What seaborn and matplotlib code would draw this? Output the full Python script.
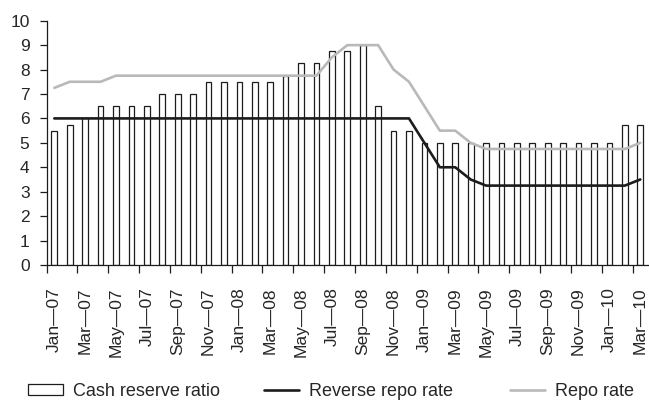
import matplotlib
matplotlib.use("Agg")
import matplotlib.pyplot as plt
from matplotlib.patches import Patch
from matplotlib.lines import Line2D
from matplotlib.ticker import FixedLocator
import seaborn as sns
import pandas as pd

# Monthly policy rates, Jan 2007 - Mar 2010 (per cent)
months = [
    "Jan—07", "Feb—07", "Mar—07", "Apr—07", "May—07", "Jun—07", "Jul—07", "Aug—07",
    "Sep—07", "Oct—07", "Nov—07", "Dec—07", "Jan—08", "Feb—08", "Mar—08", "Apr—08",
    "May—08", "Jun—08", "Jul—08", "Aug—08", "Sep—08", "Oct—08", "Nov—08", "Dec—08",
    "Jan—09", "Feb—09", "Mar—09", "Apr—09", "May—09", "Jun—09", "Jul—09", "Aug—09",
    "Sep—09", "Oct—09", "Nov—09", "Dec—09", "Jan—10", "Feb—10", "Mar—10",
]
cash_reserve_ratio = [
    5.5, 5.75, 6.0, 6.5, 6.5, 6.5, 6.5, 7.0, 7.0, 7.0, 7.5, 7.5, 7.5, 7.5, 7.5,
    7.75, 8.25, 8.25, 8.75, 8.75, 9.0, 6.5, 5.5, 5.5, 5.0, 5.0, 5.0, 5.0, 5.0,
    5.0, 5.0, 5.0, 5.0, 5.0, 5.0, 5.0, 5.0, 5.75, 5.75,
]
reverse_repo_rate = [
    6.0, 6.0, 6.0, 6.0, 6.0, 6.0, 6.0, 6.0, 6.0, 6.0, 6.0, 6.0, 6.0, 6.0, 6.0,
    6.0, 6.0, 6.0, 6.0, 6.0, 6.0, 6.0, 6.0, 6.0, 5.0, 4.0, 4.0, 3.5, 3.25,
    3.25, 3.25, 3.25, 3.25, 3.25, 3.25, 3.25, 3.25, 3.25, 3.5,
]
repo_rate = [
    7.25, 7.5, 7.5, 7.5, 7.75, 7.75, 7.75, 7.75, 7.75, 7.75, 7.75, 7.75, 7.75,
    7.75, 7.75, 7.75, 7.75, 7.75, 8.5, 9.0, 9.0, 9.0, 8.0, 7.5, 6.5, 5.5, 5.5,
    5.0, 4.75, 4.75, 4.75, 4.75, 4.75, 4.75, 4.75, 4.75, 4.75, 4.75, 5.0,
]
y_ticks = [0, 1, 2, 3, 4, 5, 6, 7, 8, 9, 10]

df = pd.DataFrame({
    "month": pd.Categorical(months, categories=months, ordered=True),
    "crr": cash_reserve_ratio,
    "reverse": reverse_repo_rate,
    "repo": repo_rate,
})

sns.set_style("white")
plt.rcParams["font.family"] = ["Liberation Sans", "DejaVu Sans"]

fig = plt.figure(figsize=(6.49, 4.01), dpi=100)
ax = fig.add_axes([46.6 / 649, 136 / 401, 601.4 / 649, 244.3 / 401])

BLACK = "#1c1c1c"
GREY = "#b9b9b9"

sns.barplot(data=df, x="month", y="crr", color="white", edgecolor=BLACK,
            linewidth=0.9, width=0.37, saturation=1, ax=ax, zorder=2)
sns.lineplot(data=df, x="month", y="repo", color=GREY, linewidth=1.9,
             sort=False, ax=ax, zorder=3)
sns.lineplot(data=df, x="month", y="reverse", color=BLACK, linewidth=1.9,
             sort=False, ax=ax, zorder=4)

n = len(months)
ax.set_xlim(-0.5, n - 0.5)
ax.set_ylim(0, 10)
ax.set_xlabel("")
ax.set_ylabel("")

# labels on every other month, tick marks on the category boundaries
ax.xaxis.set_major_locator(FixedLocator(list(range(0, n, 2))))
ax.set_xticklabels(months[::2], rotation=90, fontsize=12.5)
ax.xaxis.set_minor_locator(FixedLocator([i - 0.5 for i in range(0, n, 2)]))
ax.tick_params(axis="x", which="major", length=0, pad=16)
ax.tick_params(axis="x", which="minor", length=5.8, width=0.9, color=BLACK,
               direction="out", bottom=True)

ax.set_yticks(y_ticks)
ax.set_yticklabels([str(v) for v in y_ticks], fontsize=12.5)
ax.tick_params(axis="y", length=5.3, width=0.9, color=BLACK, pad=7,
               direction="out", left=True)

for side in ("top", "right"):
    ax.spines[side].set_visible(False)
for side in ("left", "bottom"):
    ax.spines[side].set_color(BLACK)
    ax.spines[side].set_linewidth(0.9)
ax.grid(False)

# legend entries along the bottom
entries = [
    (Patch(facecolor="white", edgecolor=BLACK, linewidth=0.9), "Cash reserve ratio", 28),
    (Line2D([], [], color=BLACK, linewidth=1.9), "Reverse repo rate", 264),
    (Line2D([], [], color=GREY, linewidth=1.9), "Repo rate", 510),
]
for handle, label, x0 in entries:
    fig.legend([handle], [label], loc="center left",
               bbox_to_anchor=(x0 / 649, 1 - 391 / 401),
               frameon=False, fontsize=13, borderpad=0, borderaxespad=0,
               handlelength=1.95, handleheight=0.55, handletextpad=0.55)

fig.savefig("out.png", dpi=100)
